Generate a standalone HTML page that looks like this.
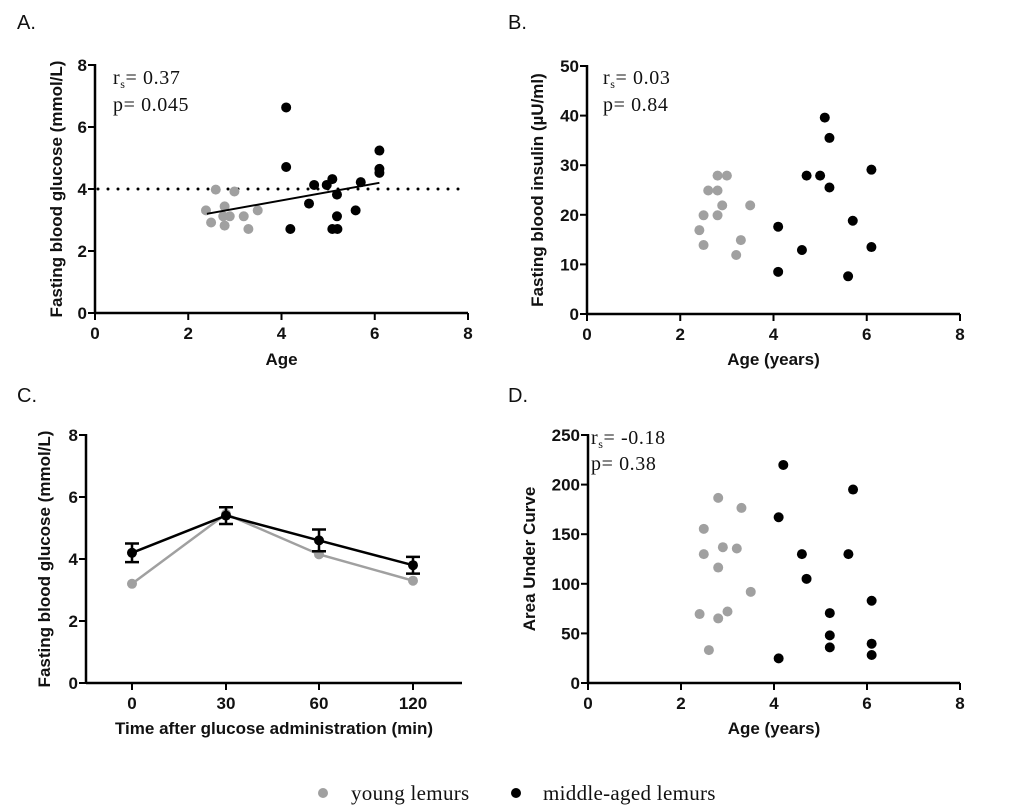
<!DOCTYPE html>
<html><head><meta charset="utf-8"><style>
body{margin:0;background:#fff;}
svg{display:block;}
.tick{font-family:"Liberation Sans",Arial,sans-serif;font-weight:bold;font-size:17px;fill:#111;}
.title{font-family:"Liberation Sans",Arial,sans-serif;font-weight:bold;font-size:17px;fill:#111;}
.plab{font-family:"Liberation Sans",Arial,sans-serif;font-size:20px;fill:#111;}
.stat{font-family:"Liberation Serif","Times New Roman",serif;font-size:20px;letter-spacing:0.6px;fill:#111;}
.leg{font-family:"Liberation Serif","Times New Roman",serif;font-size:21px;letter-spacing:0.3px;fill:#111;}
</style></head><body>
<svg id="fig" width="1020" height="812" viewBox="0 0 1020 812" xmlns="http://www.w3.org/2000/svg">
<text class="plab" x="17" y="29">A.</text>
<text class="plab" x="508" y="29">B.</text>
<text class="plab" x="17" y="402">C.</text>
<text class="plab" x="508" y="402">D.</text>

<text class="stat" x="113" y="84">r<tspan font-size="12" dy="4">s</tspan><tspan dy="-4">= 0.37</tspan></text>
<text class="stat" x="113" y="111">p= 0.045</text>
<text class="stat" x="603" y="84">r<tspan font-size="12" dy="4">s</tspan><tspan dy="-4">= 0.03</tspan></text>
<text class="stat" x="603" y="111">p= 0.84</text>
<text class="stat" x="591" y="444">r<tspan font-size="12" dy="4">s</tspan><tspan dy="-4">= -0.18</tspan></text>
<text class="stat" x="591" y="470">p= 0.38</text>

<g>
<circle cx="323" cy="793" r="5" fill="#a0a0a0"/>
<text class="leg" x="351" y="800">young lemurs</text>
<circle cx="516" cy="793" r="5" fill="#000"/>
<text class="leg" x="543" y="800">middle-aged lemurs</text>
</g>
</svg>
<script>
// Panel A data
const aYoungX=[2.38,2.59,2.99,2.49,2.78,2.78,2.89,2.75,3.19,3.29,3.49];
const aYoungY=[3.31,3.98,3.92,2.92,3.44,2.82,3.12,3.12,3.12,2.71,3.31];
const aMidX=[4.1,4.1,4.19,4.59,4.7,4.97,5.09,5.19,5.19,5.09,5.2,5.59,5.7,6.1,6.1,6.1];
const aMidY=[6.63,4.71,2.71,3.53,4.13,4.13,4.32,3.82,3.12,2.71,2.71,3.31,4.22,5.24,4.65,4.52];
const aFitX=[2.4,6.1];
const aFitY=[3.2,4.2];
const aRef=4;
// Panel B data
const bYoungX=[2.41,2.5,2.5,2.6,2.8,2.8,3.0,2.8,2.9,3.2,3.3,3.5];
const bYoungY=[16.9,13.9,19.9,24.9,24.9,27.9,27.9,19.9,21.9,11.9,14.9,21.9];
const bMidX=[4.1,4.1,4.61,4.71,5.0,5.1,5.2,5.2,5.7,5.6,6.1,6.1];
const bMidY=[17.6,8.5,12.9,27.9,27.9,39.6,35.5,25.5,18.8,7.6,29.1,13.5];
// Panel C data
const cCats=["0","30","60","120"];
const cYoung=[3.2,5.45,4.15,3.3];
const cMid=[4.2,5.4,4.6,3.8];
const cMidErr=[0.3,0.27,0.35,0.27];
// Panel D data
const dYoungX=[2.8,3.3,2.49,2.49,2.9,3.2,2.8,3.5,2.4,2.8,3.0,2.6];
const dYoungY=[186.6,176.5,155.4,129.9,136.9,135.6,116.4,91.9,69.5,65.1,72.1,33.2];
const dMidX=[4.2,4.1,5.7,4.6,5.6,4.7,6.1,5.2,5.2,5.2,6.1,6.1,4.1];
const dMidY=[219.8,167.1,195,129.9,129.9,105,82.9,70.5,48,35.9,39.6,28.2,24.8];
const ageTicks=["0","2","4","6","8"];
const glucTicks=["0","2","4","6","8"];
const insTicks=["0","10","20","30","40","50"];
const aucTicks=["0","50","100","150","200","250"];

const NS="http://www.w3.org/2000/svg";
const svg=document.getElementById('fig');
function mk(tag,attrs,parent){const e=document.createElementNS(NS,tag);for(const k in attrs)e.setAttribute(k,attrs[k]);(parent||svg).appendChild(e);return e;}
const GRAY="#a0a0a0";

function axes(g,x0,x1,y0,y1,yTicks,yMax,xTicks,xPos,yTitle,yTitleX,xTitle,xTitleY){
  mk('line',{x1:x0,y1:y1-1,x2:x0,y2:y0,stroke:'#000','stroke-width':2.5},g);
  mk('line',{x1:x0,y1:y0,x2:x1,y2:y0,stroke:'#000','stroke-width':2.5},g);
  yTicks.forEach((t,i)=>{const y=y0-(+t/yMax)*(y0-y1);
    mk('line',{x1:x0-7,y1:y,x2:x0,y2:y,stroke:'#000','stroke-width':2},g);
    const tx=mk('text',{x:x0-8,y:y+6,'text-anchor':'end','class':'tick'},g);tx.textContent=t;
    
    });
  xTicks.forEach((t,i)=>{const x=xPos(i,t);
    mk('line',{x1:x,y1:y0,x2:x,y2:y0+7,stroke:'#000','stroke-width':2},g);
    const tx=mk('text',{x:x,y:y0+26,'text-anchor':'middle','class':'tick'},g);tx.textContent=t;
    
    });
  const yt=mk('text',{x:yTitleX,y:(y0+y1)/2,'text-anchor':'middle','class':'title',transform:`rotate(-90 ${yTitleX} ${(y0+y1)/2})`},g);
  yt.textContent=yTitle;
  
  
  const xt=mk('text',{x:(x0+x1)/2,y:xTitleY,'text-anchor':'middle','class':'title'},g);
  xt.textContent=xTitle;
  
  
}
function scatter(g,sx,sy,xs,ys,color,name){
  xs.forEach((v,i)=>{const c=mk('circle',{cx:sx(v),cy:sy(ys[i]),r:5,fill:color},g);
    
    });
}
function panel(name){const g=mk('g',{});return g;}

// Panel A
(function(){const g=panel('panel-a');
 const x0=95,x1=468,y0=313,y1=65;
 const sx=v=>x0+v/8*(x1-x0), sy=v=>y0-v/8*(y0-y1);
 axes(g,x0,x1,y0,y1,glucTicks,8,ageTicks,(i,t)=>sx(+t),'Fasting blood glucose (mmol/L)',62,'Age',365);
 const r=mk('line',{x1:x0+3,y1:sy(aRef),x2:x1,y2:sy(aRef),stroke:'#000','stroke-width':3,'stroke-dasharray':'0 10','stroke-linecap':'round'},g);
 
 
 scatter(g,sx,sy,aYoungX,aYoungY,GRAY,'point-young');
 scatter(g,sx,sy,aMidX,aMidY,'#000','point-middle-aged');
 const f=mk('line',{x1:sx(aFitX[0]),y1:sy(aFitY[0]),x2:sx(aFitX[1]),y2:sy(aFitY[1]),stroke:'#000','stroke-width':2},g);
 
 
})();
// Panel B
(function(){const g=panel('panel-b');
 const x0=587,x1=960,y0=314,y1=66;
 const sx=v=>x0+v/8*(x1-x0), sy=v=>y0-v/50*(y0-y1);
 axes(g,x0,x1,y0,y1,insTicks,50,ageTicks,(i,t)=>sx(+t),'Fasting blood insulin (\u00b5U/ml)',543,'Age (years)',365);
 scatter(g,sx,sy,bYoungX,bYoungY,GRAY,'point-young');
 scatter(g,sx,sy,bMidX,bMidY,'#000','point-middle-aged');
})();
// Panel C
(function(){const g=panel('panel-c');
 const x0=86,x1=462,y0=683,y1=435;
 const catX=[132,226,319,413];
 const sy=v=>y0-v/8*(y0-y1);
 axes(g,x0,x1,y0,y1,glucTicks,8,cCats,(i)=>catX[i],'Fasting blood glucose (mmol/L)',50,'Time after glucose administration (min)',734);
 const py=mk('polyline',{points:cYoung.map((v,i)=>catX[i]+','+sy(v)).join(' '),fill:'none',stroke:GRAY,'stroke-width':2.5},g);
 
 
 cYoung.forEach((v,i)=>{const c=mk('circle',{cx:catX[i],cy:sy(v),r:5,fill:GRAY},g);
   
   });
 const pm=mk('polyline',{points:cMid.map((v,i)=>catX[i]+','+sy(v)).join(' '),fill:'none',stroke:'#000','stroke-width':2.5},g);
 
 
 cMid.forEach((v,i)=>{const x=catX[i],hi=sy(v+cMidErr[i]),lo=sy(v-cMidErr[i]);
   const eb=mk('path',{d:`M${x},${hi}V${lo}M${x-7},${hi}H${x+7}M${x-7},${lo}H${x+7}`,stroke:'#000','stroke-width':2.5,fill:'none'},g);
   
   
   const c=mk('circle',{cx:x,cy:sy(v),r:5,fill:'#000'},g);
   
   });
})();
// Panel D
(function(){const g=panel('panel-d');
 const x0=588,x1=960,y0=683,y1=435;
 const sx=v=>x0+v/8*(x1-x0), sy=v=>y0-v/250*(y0-y1);
 axes(g,x0,x1,y0,y1,aucTicks,250,ageTicks,(i,t)=>sx(+t),'Area Under Curve',535,'Age (years)',734);
 scatter(g,sx,sy,dYoungX,dYoungY,GRAY,'point-young');
 scatter(g,sx,sy,dMidX,dMidY,'#000','point-middle-aged');
})();
</script>
</body></html>
